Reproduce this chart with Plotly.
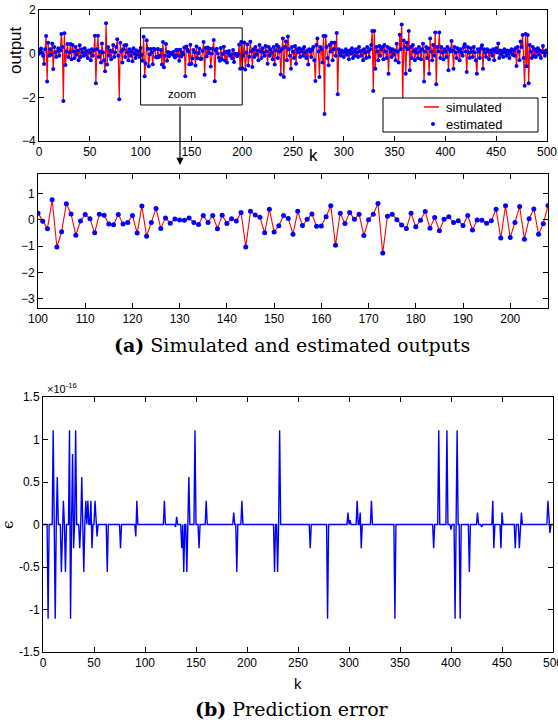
import numpy as np
import plotly.graph_objects as go

# ---------------- data ----------------
# output y(k), k = 0..500, split in blocks
out_0_99 = [
    0.00, 0.15, 0.24, 0.05, -0.10, -0.47, 0.20, 0.81, -1.27, 0.50,
    -0.10, 0.20, -0.05, 0.47, -0.70, 0.30, 0.05, -0.15, 0.10, 0.25,
    -0.10, 0.15, 0.90, 0.30, -2.17, 0.93, -0.52, 0.10, 0.44, -0.15,
    0.05, 0.44, -0.25, 0.40, 0.10, -0.20, 0.30, -0.05, 0.15, -0.30,
    0.38, -0.15, 0.20, 0.05, -0.10, 0.25, -0.05, 0.10, -0.20, 0.15,
    0.05, -0.30, 0.20, -0.10, 0.15, 0.82, -1.36, 0.20, 0.82, -0.15,
    0.10, -0.40, 0.47, 0.05, -0.30, -0.80, 1.39, -0.50, 0.30, -0.10,
    0.15, -0.25, 0.10, 0.40, -0.15, 0.05, 0.30, 0.66, -0.10, -2.09,
    0.50, 0.10, -0.40, 0.20, 0.38, -0.15, 0.40, 0.05, -0.30, 0.20,
    -0.10, 0.10, -0.35, 0.25, 0.00, -0.20, 0.15, -0.05, 0.10, -0.15,
]
out_100_208 = [
    0.26, -0.05, -0.33, 0.77, -1.03, -0.45, 0.62, 0.23, -0.58, -0.04,
    0.21, 0.05, -0.49, 0.22, 0.18, -0.15, -0.18, 0.21, -0.15, -0.10,
    0.17, -0.50, 0.53, -0.62, -0.10, 0.44, -0.32, 0.08, -0.12, 0.04,
    0.00, -0.01, 0.08, -0.10, -0.17, 0.17, -0.10, 0.17, -0.33, 0.18,
    -0.13, 0.05, -0.04, 0.28, -1.03, 0.33, 0.19, 0.10, -0.49, 0.41,
    -0.46, -0.22, 0.17, 0.06, -0.54, 0.33, -0.21, 0.03, 0.23, -0.24,
    -0.23, 0.12, 0.54, -0.96, 0.26, -0.13, 0.28, 0.03, 0.22, -0.59,
    0.01, 0.22, 0.63, -1.26, 0.14, 0.22, 0.01, -0.19, -0.32, 0.26,
    -0.26, -0.01, 0.32, -0.31, 0.09, -0.41, 0.03, 0.12, -0.10, -0.03,
    -0.21, 0.17, -0.38, 0.00, -0.01, -0.12, -0.03, 0.41, -0.69, 0.54,
    -0.67, -0.10, 0.51, -0.73, 0.05, 0.42, -0.54, -0.14, 0.55,
]
out_209_299 = [
    0.10,
    -0.61, 0.20, -0.15, 0.30, -0.05, 0.15, -0.30, 0.40, 0.10, -0.20,
    0.25, 0.05, -0.10, 0.35, 0.10, -0.46, 0.30, -0.10, 0.20, 0.05,
    -0.25, 0.30, -0.50, 0.15, 0.40, -0.20, 0.30, 0.10, -0.95, 0.20,
    0.69, -1.07, 0.30, 0.56, -0.30, 0.79, 0.20, -0.10, -0.69, 0.30,
    0.10, -0.20, 0.35, -0.46, 0.20, 0.05, 0.25, -0.15, 0.10, 0.20,
    -0.10, 0.30, 0.05, -0.20, 0.15, -0.50, 0.20, 0.10, -0.15, 0.20,
    0.30, -0.30, -1.25, 0.40, 0.69, 0.10, -1.07, 0.30, 0.20, -0.40,
    0.81, -2.76, 0.81, 0.30, -0.20, -0.53, 0.40, 0.10, 0.50, -0.30,
    0.20, 0.50, -0.10, 0.95, -1.86, 0.20, 0.05, -0.10, 0.15, 0.05,
]
out_300_399 = [
    -0.15, 0.10, 0.20, -0.05, 0.10, -0.25, 0.15, 0.00, 0.25, -0.20,
    0.10, -0.10, 0.20, 0.05, -0.15, 0.30, 0.10, -0.10, 0.15, -0.30,
    0.20, 0.05, -0.20, 0.30, 0.10, -0.15, 0.20, 0.40, 1.04, -1.71,
    1.04, -0.69, 0.30, 0.10, -0.30, 0.35, -0.10, 0.20, 0.30, -0.25,
    0.40, 0.10, -0.20, 0.30, -0.92, 0.25, 0.10, -0.15, 0.20, -0.05,
    0.15, -0.30, 0.45, 0.10, -0.40, 0.87, 0.20, 1.34, -2.30, 0.60,
    0.30, -0.92, 0.50, 0.20, 1.04, -0.76, 0.30, -0.20, 0.40, 0.10,
    -0.30, 0.20, 0.05, -0.20, 0.30, 0.10, -0.25, 0.20, 0.45, -1.27,
    0.10, 0.30, -0.20, 0.25, -0.92, 0.69, 0.10, -0.30, 0.40, -0.10,
    0.97, -1.40, 0.30, 0.10, 0.97, -0.20, 0.30, 0.05, -0.25, 0.20,
]
out_400_500 = [
    0.10, -0.15, 0.30, -0.76, 0.20, 0.10, 0.58, 0.15, -0.69, 0.30,
    0.05, -0.20, 0.25, 0.10, -0.30, 0.20, 0.05, -0.10, 0.30, 0.43,
    0.10, -0.84, 0.30, 0.05, -0.20, 0.25, 0.10, -0.15, 0.30, 0.05,
    -0.30, -0.92, 0.20, 0.10, -0.20, 0.25, 0.38, -0.69, 0.20, 0.05,
    -0.15, 0.20, 0.10, -0.25, 0.15, 0.05, -0.10, 0.20, -0.30, 0.10,
    0.25, 0.05, 0.46, -0.20, 0.15, -0.05, 0.10, -0.15, 0.20, 0.05,
    -0.10, 0.15, 0.00, -0.20, 0.10, 0.20, -0.05, 0.15, -0.10, 0.25,
    -0.56, 0.30, 0.10, -0.30, 0.56, 0.30, 0.86, -0.20, -1.47, 0.90,
    -0.58, 0.85, -1.36, 0.40, 0.10, -0.20, 0.30, -0.10, 0.20, -0.15,
    0.10, 0.25, -0.05, 0.15, -0.20, 0.10, 0.35, 0.05, -0.10, 0.15,
    0.10,
]
output = out_0_99 + out_100_208 + out_209_299 + out_300_399 + out_400_500
k = list(range(len(output)))

# prediction error (units of 1e-16), nonzero samples only
err_k = [5, 10, 12, 14, 18, 20, 22, 26, 27, 29, 30, 32, 36, 38, 40, 42, 44,
         47, 48, 51, 53, 63, 76, 91, 92, 119, 130, 131, 136, 138, 141, 143,
         149, 153, 160, 187, 190, 195, 227, 230, 232, 262, 279, 299, 301,
         308, 311, 312, 322, 345, 383, 388, 396, 400, 404, 406, 409, 418,
         426, 430, 441, 442, 449, 450, 463, 467, 469, 495, 497]
err_v = [-1.11, 1.11, -1.11, 0.56, -0.56, 0.28, -0.56, 1.11, -1.11, 0.83,
         -0.28, 1.11, -0.28, 0.56, -0.56, 0.28, 0.28, 0.28, -0.28, 0.28,
         -0.14, -0.56, -0.28, -0.14, 0.28, 0.28, -0.03, 0.09, -0.28, -0.56,
         -0.56, 0.56, 1.11, -0.28, 0.28, 0.14, -0.56, 0.28, -0.56, -0.56,
         1.11, -0.28, -1.11, 0.14, 0.05, 0.28, 0.14, -0.28, 0.28, -1.11,
         -0.28, 1.11, 1.11, -0.06, -1.11, 1.11, -1.11, -0.56, 0.14, -0.03,
         0.28, -0.28, -0.28, 0.14, -0.28, -0.28, 0.14, 0.28, -0.10]
err = np.zeros(len(output))
err[err_k] = err_v

zoom_lo, zoom_hi = 100, 208

W, H = 558, 722
def px(x):
    return x / W
def py(y):
    return 1 - y / H

RED = "#ff0000"
BLUE = "#0000ff"
SANS = "Liberation Sans"
SERIF = "DejaVu Serif"

fig = go.Figure()

# full run
fig.add_trace(go.Scatter(x=k, y=output, mode="lines", line=dict(color=RED, width=1.2),
                         xaxis="x", yaxis="y", showlegend=False))
fig.add_trace(go.Scatter(x=k, y=output, mode="markers", marker=dict(color=BLUE, size=4),
                         xaxis="x", yaxis="y", showlegend=False))
# zoomed window
kz = k[zoom_lo:zoom_hi + 1]
yz = output[zoom_lo:zoom_hi + 1]
fig.add_trace(go.Scatter(x=kz, y=yz, mode="lines", line=dict(color=RED, width=1.1),
                         xaxis="x2", yaxis="y2", showlegend=False))
fig.add_trace(go.Scatter(x=kz, y=yz, mode="markers", marker=dict(color=BLUE, size=5),
                         xaxis="x2", yaxis="y2", showlegend=False))
# prediction error
fig.add_trace(go.Scatter(x=k, y=err, mode="lines", line=dict(color=BLUE, width=1.4),
                         xaxis="x3", yaxis="y3", showlegend=False))

axis_common = dict(showline=True, linecolor="black", linewidth=1, mirror="ticks",
                   ticks="inside", ticklen=5, tickcolor="black", showgrid=False,
                   zeroline=False, automargin=False, ticklabeloverflow="allow",
                   tickfont=dict(family=SANS, size=12, color="black"))

fig.update_layout(
    width=W, height=H, margin=dict(l=0, r=0, t=0, b=0, autoexpand=False),
    paper_bgcolor="white", plot_bgcolor="white",
    xaxis=dict(domain=[px(39), px(547)], anchor="y", range=[0, 500],
               tickvals=list(range(0, 501, 50)), **axis_common),
    yaxis=dict(domain=[py(141), py(10)], anchor="x", range=[-4, 2],
               tickvals=[-4, -2, 0, 2], **axis_common),
    xaxis2=dict(domain=[px(38), px(548)], anchor="y2", range=[zoom_lo, zoom_hi],
                tickvals=list(range(100, 201, 10)), **axis_common),
    yaxis2=dict(domain=[py(308), py(174)], anchor="x2", range=[-3.35, 1.75],
                tickvals=[-3, -2, -1, 0, 1], **axis_common),
    xaxis3=dict(domain=[px(43), px(553)], anchor="y3", range=[0, 500],
                tickvals=list(range(0, 501, 50)), **axis_common),
    yaxis3=dict(domain=[py(652), py(397)], anchor="x3", range=[-1.5, 1.5],
                tickvals=[-1.5, -1, -0.5, 0, 0.5, 1, 1.5],
                ticktext=["-1.5", "-1", "-0.5", "0", "0.5", "1", "1.5"], **axis_common),
)

shapes = [
    # zoom window on the full run
    dict(type="rect", xref="x", yref="y", x0=zoom_lo, x1=200, y0=-2.35, y1=1.18,
         line=dict(color="black", width=1)),
    # legend box
    dict(type="rect", xref="paper", yref="paper", x0=px(383), x1=px(538),
         y0=py(132), y1=py(98), line=dict(color="black", width=1), fillcolor="white"),
    dict(type="line", xref="paper", yref="paper", x0=px(424), x1=px(439),
         y0=py(107), y1=py(107), line=dict(color=RED, width=1.5)),
    dict(type="circle", xref="paper", yref="paper", x0=px(431), x1=px(435),
         y0=py(126), y1=py(122), line=dict(color=BLUE, width=0), fillcolor=BLUE),
]
fig.update_layout(shapes=shapes)

ann = [
    dict(text="output", x=px(15), y=py(50), textangle=-90, font=dict(family=SANS, size=17)),
    dict(text="k", x=px(313), y=py(156), font=dict(family=SANS, size=17)),
    dict(text="simulated", x=px(444), y=py(107), xanchor="left", font=dict(family=SANS, size=13)),
    dict(text="estimated", x=px(444), y=py(124), xanchor="left", font=dict(family=SANS, size=13)),
    dict(text="zoom", x=px(182), y=py(94), font=dict(family=SANS, size=11.5)),
    dict(text="<b>(a)</b> Simulated and estimated outputs", x=px(292), y=py(345),
         font=dict(family=SERIF, size=19)),
    dict(text="\u00d710<sup>-16</sup>", x=px(45), y=py(388), xanchor="left",
         font=dict(family=SANS, size=11)),
    dict(text="\u03f5", x=px(8), y=py(525), textangle=-90, font=dict(family=SERIF, size=15)),
    dict(text="k", x=px(298), y=py(683), font=dict(family=SANS, size=15)),
    dict(text="<b>(b)</b> Prediction error", x=px(292), y=py(709),
         font=dict(family=SERIF, size=19)),
]
for a in ann:
    a.setdefault("xref", "paper")
    a.setdefault("yref", "paper")
    a.setdefault("xanchor", "center")
    a.setdefault("yanchor", "middle")
    a.setdefault("showarrow", False)
    a["font"].setdefault("color", "black")
fig.update_layout(annotations=ann)

# arrow from the zoom window down to the zoomed panel
fig.add_annotation(xref="paper", yref="paper", x=px(180), y=py(165), ax=0, ay=-60,
                   text="", showarrow=True, arrowhead=2, arrowsize=1.2, arrowwidth=1.2,
                   arrowcolor="black")

fig.write_html("out.html")
